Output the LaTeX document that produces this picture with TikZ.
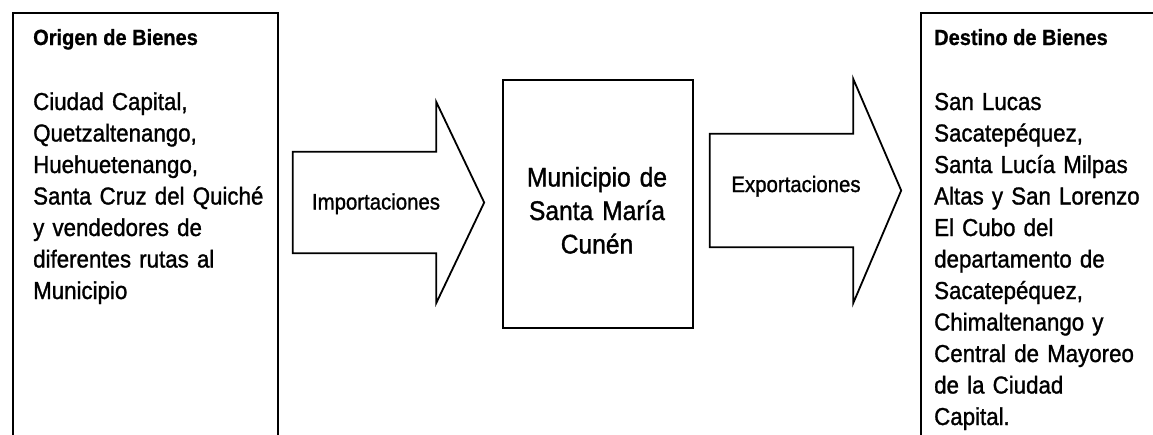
\documentclass[tikz,border=0pt]{standalone}
\usepackage{fontspec}
\setmainfont{Liberation Sans}[FakeStretch=0.91, UprightFeatures={FakeBold=1.2}, BoldFeatures={FakeBold=0.8}]
\usetikzlibrary{positioning, calc}

\tikzset{
  frame/.style={draw, line width=1.8pt, inner sep=0pt},
  heading/.style={font=\bfseries\fontsize{22}{26}\selectfont, anchor=base west, inner sep=0pt},
  listtext/.style={font=\fontsize{24.5}{31.5}\selectfont, align=left, text width=240pt, anchor=base west, inner sep=0pt},
  midtext/.style={font=\fontsize{27}{33.5}\selectfont, align=center, text width=180pt, anchor=base, inner sep=0pt},
  flowtext/.style={font=\fontsize{22.4}{26}\selectfont, anchor=base, inner sep=0pt},
  arrbody/.style={minimum width=143pt, inner sep=0pt},
  outline/.style={line width=1.8pt, line join=miter},
}

\begin{document}
\begin{tikzpicture}[x=1pt, y=-1pt]
  \useasboundingbox (0,0) rectangle (1153,434);
  \clip (0,0) rectangle (1153,434);

  % origen
  \node[frame, minimum width=265pt, minimum height=450pt, anchor=north west] (origen) at (12,12) {};
  \node[heading] (origenH) at (33,45) {Origen de Bienes};
  \node[listtext] (origenL) at (33,110) {Ciudad Capital,\\Quetzaltenango,\\Huehuetenango,\\Santa Cruz del Quiché\\y vendedores de\\diferentes rutas al\\Municipio};

  % importaciones
  \node[arrbody, minimum height=101pt] (imp) at (364.5,202.5) {};
  \draw[outline] (imp.south west) -- (imp.north west) -- (imp.north east) -- ++(0pt,50pt)
    -- ([xshift=48pt]imp.east) -- ([yshift=-50pt]imp.south east) -- (imp.south east) -- cycle;
  \node[flowtext] (impT) at (376,209.5) {Importaciones};

  % municipio
  \node[frame, minimum width=190pt, minimum height=248pt, anchor=north west] (cunen) at (502,79) {};
  \node[midtext] (cunenT) at (597,186.5) {Municipio de\\Santa María\\Cunén};

  % exportaciones
  \node[arrbody, minimum height=113pt] (exp) at (781.5,190.5) {};
  \draw[outline] (exp.south west) -- (exp.north west) -- (exp.north east) -- ++(0pt,55pt)
    -- ([xshift=48pt]exp.east) -- ([yshift=-56pt]exp.south east) -- (exp.south east) -- cycle;
  \node[flowtext] (expT) at (796,192) {Exportaciones};

  % destino
  \node[frame, minimum width=260pt, minimum height=450pt, anchor=north west] (destino) at (920,12) {};
  \node[heading] (destinoH) at (934,45) {Destino de Bienes};
  \node[listtext] (destinoL) at (934,110) {San Lucas\\Sacatepéquez,\\Santa Lucía Milpas\\Altas y San Lorenzo\\El Cubo del\\departamento de\\Sacatepéquez,\\Chimaltenango y\\Central de Mayoreo\\de la Ciudad\\Capital.};
\end{tikzpicture}
\end{document}
